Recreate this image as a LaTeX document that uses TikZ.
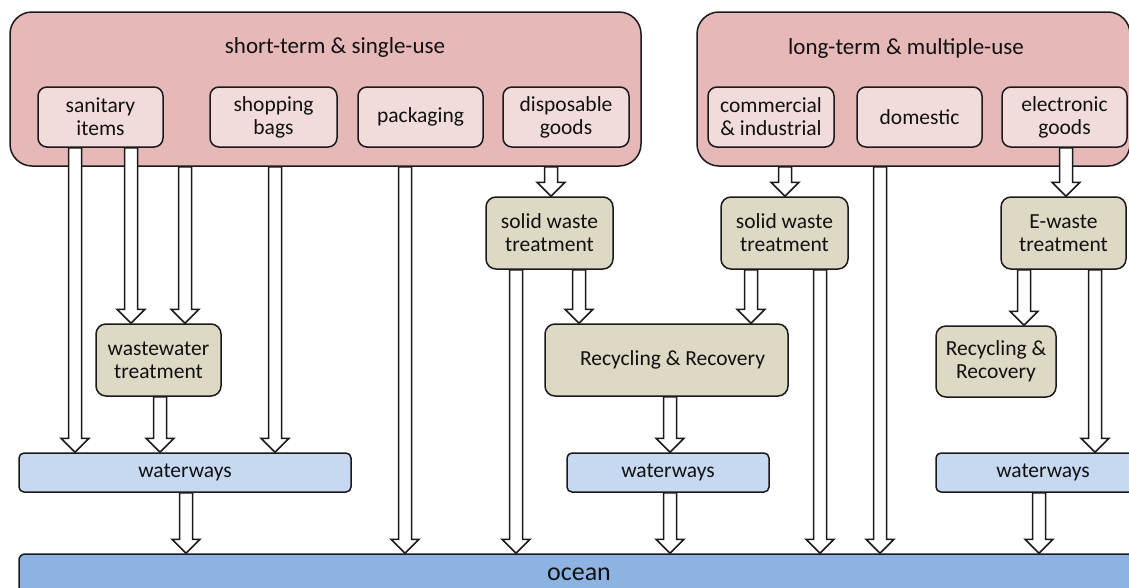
\documentclass[tikz,border=0pt]{standalone}
\usepackage{fontspec}
\setmainfont{Carlito}
\usetikzlibrary{calc}
\definecolor{bigfill}{HTML}{E6B9B8}
\definecolor{innerfill}{HTML}{F2DCDB}
\definecolor{tanfill}{HTML}{DDD9C4}
\definecolor{wwfill}{HTML}{C6D9F1}
\definecolor{oceanfill}{HTML}{8DB3E2}
\definecolor{edge}{HTML}{1A1A1A}
\definecolor{ink}{HTML}{111111}
\tikzset{
  boxbase/.style={draw=edge, line width=1.5pt, text=ink, align=center, inner sep=0pt,
    font=\fontsize{21.5}{23}\selectfont},
  bigbox/.style={boxbase, fill=bigfill, rounded corners=22pt},
  innerbox/.style={boxbase, fill=innerfill, rounded corners=9pt, minimum height=60},
  tanbox/.style={boxbase, fill=tanfill, rounded corners=10pt, minimum height=72},
  wwbox/.style={boxbase, fill=wwfill, rounded corners=5pt, minimum height=39},
  oceanbox/.style={boxbase, fill=oceanfill, rounded corners=6pt, minimum height=40,
    font=\fontsize{26}{28}\selectfont},
  titletext/.style={text=ink, inner sep=0pt, font=\fontsize{23}{26}\selectfont},
  blockarrow/.style={draw=edge, line width=1.5pt, fill=white, line join=miter,
    to path={let \p1=(\tikztostart), \p2=(\tikztotarget) in
      (\x1-6.5pt,\y1) -- (\x1-6.5pt,\y2+14pt) -- (\x1-14pt,\y2+14pt) -- (\x1,\y2)
      -- (\x1+14pt,\y2+14pt) -- (\x1+6.5pt,\y2+14pt) -- (\x1+6.5pt,\y1) -- cycle}}
}
\begin{document}
\begin{tikzpicture}[x=1pt,y=-1pt]
\useasboundingbox (0,0) rectangle (1129,587);
\clip (0,0) rectangle (1129,587);
\fill[white] (0,0) rectangle (1129,587);

% group boxes
\node[bigbox, minimum width=631, minimum height=154] (short) at (325.5,89) {};
\node[bigbox, minimum width=433, minimum height=154] (long) at (913.5,89) {};
\node[titletext] (t1) at (335,47) {short-term \& single-use};
\node[titletext] (t2) at (906,48) {long-term \& multiple-use};

% sources
\node[innerbox, minimum width=125] (san) at (100.5,117) {sanitary\\items};
\node[innerbox, minimum width=127] (shop) at (273.5,117) {shopping\\bags};
\node[innerbox, minimum width=125] (pack) at (420.5,117) {packaging};
\node[innerbox, minimum width=126] (disp) at (566,117) {disposable\\goods};
\node[innerbox, minimum width=126] (comm) at (771,117) {commercial\\\& industrial};
\node[innerbox, minimum width=125] (dom) at (919.5,117) {domestic};
\node[innerbox, minimum width=125] (elec) at (1064.5,117) {electronic\\goods};

% treatments
\node[tanbox, minimum width=127] (sw1) at (549.5,233) {solid waste\\treatment};
\node[tanbox, minimum width=127] (sw2) at (784.5,233) {solid waste\\treatment};
\node[tanbox, minimum width=125] (ew) at (1063.5,233) {E-waste\\treatment};
\node[tanbox, minimum width=125] (wwt) at (158.5,360) {wastewater\\treatment};
\node[tanbox, minimum width=243] (rr1) at (666.5,360) {\hspace*{12pt}Recycling \& Recovery};
\node[tanbox, minimum width=120, minimum height=71] (rr2) at (996,361.5) {Recycling \&\\Recovery};

% waterways and ocean
\node[wwbox, minimum width=332] (wwl) at (185,472.5) {waterways};
\node[wwbox, minimum width=202] (wwm) at (668,472.5) {waterways};
\node[wwbox, minimum width=214] (wwr) at (1043,472.5) {waterways};
\node[oceanbox, minimum width=1120] (ocean) at (579,574) {ocean};

% arrows
\draw[blockarrow] ($(san.south)+(-25.5,0)$) to (wwl.north);
\draw[blockarrow] ($(san.south)+(30.5,0)$) to (wwt.north);
\draw[blockarrow] ($(short.south -| wwt.north)+(26.5,0)$) to (wwt.north);
\draw[blockarrow] ($(short.south -| shop.south)+(1.5,0)$) to (wwl.north);
\draw[blockarrow] ($(wwt.south)+(1.5,0)$) to (wwl.north);
\draw[blockarrow] ($(wwl.south)+(1,0)$) to (ocean.north);
\draw[blockarrow] ($(short.south -| pack.south)+(-15.5,0)$) to (ocean.north);
\draw[blockarrow] ($(short.south -| disp.south)+(-15,0)$) to (sw1.north);
\draw[blockarrow] ($(sw1.south)+(-33.5,0)$) to (ocean.north);
\draw[blockarrow] ($(sw1.south)+(29.5,0)$) to (rr1.north);
\draw[blockarrow] ($(long.south -| comm.south)+(14,0)$) to (sw2.north);
\draw[blockarrow] ($(sw2.south)+(-33.5,0)$) to (rr1.north);
\draw[blockarrow] ($(sw2.south)+(35.5,0)$) to (ocean.north);
\draw[blockarrow] ($(long.south -| dom.south)+(-39.5,0)$) to (ocean.north);
\draw[blockarrow] ($(elec.south)+(1.5,0)$) to (ew.north);
\draw[blockarrow] ($(ew.south)+(-39.5,0)$) to (rr2.north);
\draw[blockarrow] ($(ew.south)+(31.5,0)$) to (wwr.north);
\draw[blockarrow] ($(rr1.south)+(3.5,0)$) to (wwm.north);
\draw[blockarrow] ($(wwm.south)+(2,0)$) to (ocean.north);
\draw[blockarrow] ($(wwr.south)+(-4,0)$) to (ocean.north);
\end{tikzpicture}
\end{document}
